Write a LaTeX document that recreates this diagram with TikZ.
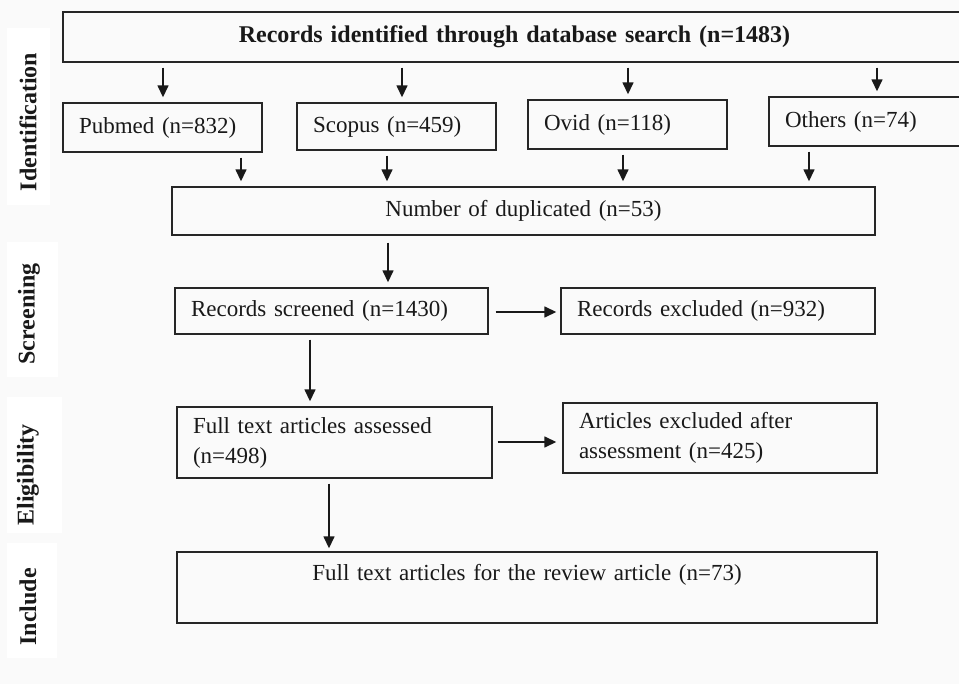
\documentclass[tikz,border=0pt]{standalone}
\usepackage{fontspec}
\setmainfont{Liberation Serif}
\usetikzlibrary{arrows.meta}
\begin{document}
\begin{tikzpicture}[x=1pt,y=-1pt,
  box/.style={draw=black!85, line width=1.4pt, inner xsep=16pt, inner ysep=0pt,
    font=\fontsize{23}{30}\selectfont, text=black!90},
  lbox/.style={box, align=left},
  cbox/.style={box, align=center},
  lab/.style={rotate=90, font=\fontsize{24}{24}\selectfont\bfseries, text=black!90},
  arr/.style={-{Triangle[length=12pt,width=11pt]}, line width=1.5pt, draw=black!90,
    shorten <=5pt, shorten >=5pt},
  harr/.style={arr, shorten <=7pt, shorten >=4pt}]
\useasboundingbox (0,0) rectangle (959,684);
\fill[black!2] (0,0) rectangle (959,684);
% stage bands
\fill[white] (7,28) rectangle (50,205);
\fill[white] (7,242) rectangle (58,377);
\fill[white] (7,397) rectangle (62,533);
\fill[white] (7,543) rectangle (57,658);
\node[lab] (lid) at (28,122) {Identification};
\node[lab] (lsc) at (29,314) {Screening};
\node[lab] (lel) at (28,475) {Eligibility};
\node[lab] (lin) at (28,607) {Include};
% boxes
\node[cbox, minimum width=903pt, minimum height=50pt, text width=871pt,
  font=\fontsize{24}{30}\selectfont\bfseries] (top) at (514.5,37)
  {Records identified through database search (n=1483)};
\node[lbox, minimum height=49pt, text width=167pt] (pubmed) at (162.5,127.5) {Pubmed (n=832)};
\node[lbox, minimum height=47pt, text width=167pt] (scopus) at (396.5,126.5) {Scopus (n=459)};
\node[lbox, minimum height=49pt, text width=167pt] (ovid) at (627.5,124.5) {Ovid (n=118)};
\node[lbox, minimum height=49pt, text width=165pt] (others) at (867.5,121.5) {Others (n=74)};
\node[cbox, minimum height=48pt, text width=671pt] (dup) at (523.5,211) {Number of duplicated (n=53)};
\node[lbox, minimum height=46pt, text width=281pt] (screened) at (331.5,311) {Records screened (n=1430)};
\node[lbox, minimum height=46pt, text width=282pt] (excluded) at (718,311) {Records excluded (n=932)};
\node[lbox, minimum height=71pt, text width=283pt] (fulltext) at (334.5,442.5) {Full text articles assessed\\(n=498)};
\node[lbox, minimum height=70pt, text width=282pt] (artexcl) at (720,438) {Articles excluded after\\assessment (n=425)};
\node[cbox, minimum height=71pt, text width=668pt] (final) at (527,587.5) {Full text articles for the review article (n=73)\\\mbox{}};
% connectors
\draw[arr] (top.south -| 163,0) -- (pubmed.north -| 163,0);
\draw[arr] (top.south -| 402,0) -- (scopus.north -| 402,0);
\draw[arr] (top.south -| 628,0) -- (ovid.north -| 628,0);
\draw[arr] (top.south -| 877,0) -- (others.north -| 877,0);
\draw[arr] (pubmed.south -| 241,0) -- (dup.north -| 241,0);
\draw[arr] (scopus.south -| 387,0) -- (dup.north -| 387,0);
\draw[arr] (ovid.south -| 623,0) -- (dup.north -| 623,0);
\draw[arr] (others.south -| 809,0) -- (dup.north -| 809,0);
\draw[arr, shorten <=7pt] (dup.south -| 388,0) -- (screened.north -| 388,0);
\draw[arr] (screened.south -| 310,0) -- (fulltext.north -| 310,0);
\draw[harr] (screened.east |- 0,312) -- (excluded.west |- 0,312);
\draw[harr, shorten <=5pt, shorten >=6pt] (fulltext.east |- 0,442) -- (artexcl.west |- 0,442);
\draw[arr, shorten >=3pt] (fulltext.south -| 329,0) -- (final.north -| 329,0);
\end{tikzpicture}
\end{document}
